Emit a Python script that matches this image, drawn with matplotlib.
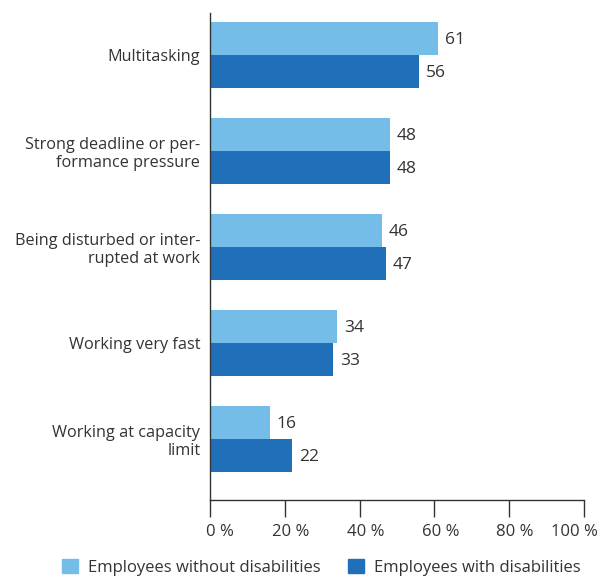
import numpy as np
import matplotlib.pyplot as plt
import matplotlib.transforms as mtrans
from matplotlib.patches import Patch

# data
categories = ['Multitasking',
              'Strong deadline or per-\nformance pressure',
              'Being disturbed or inter-\nrupted at work',
              'Working very fast',
              'Working at capacity\nlimit']
without_dis = [61, 48, 46, 34, 16]
with_dis = [56, 48, 47, 33, 22]
xticks = [0, 20, 40, 60, 80, 100]
series_names = ['Employees without disabilities', 'Employees with disabilities']

light = '#74bde8'
dark = '#1f70b8'
txt = '#333333'

plt.rcParams['font.family'] = ['Open Sans', 'DejaVu Sans']

fig = plt.figure(figsize=(6.06, 5.78), dpi=100)
ax = fig.add_axes([0.3465, 0.135, 0.6172, 0.8425])

y = np.arange(len(categories))
h = 0.344
ax.barh(y - h/2, without_dis, height=h, color=light)
ax.barh(y + h/2, with_dis, height=h, color=dark)

for i in range(len(categories)):
    ax.text(without_dis[i] + 1.8, y[i] - h/2 + 0.02, str(without_dis[i]),
            va='center', ha='left', fontsize=12.5, color=txt)
    ax.text(with_dis[i] + 1.8, y[i] + h/2 + 0.02, str(with_dis[i]),
            va='center', ha='left', fontsize=12.5, color=txt)

ax.set_xlim(0, 100)
ax.set_ylim(4 + 0.635, -0.4375)
ax.set_yticks(y)
ax.set_yticklabels(categories, fontsize=11.7, color=txt, linespacing=1.18)
ax.tick_params(axis='y', length=0, pad=7)
ax.set_xticks(xticks)
ax.set_xticklabels([f'{v} %' for v in xticks], fontsize=12, color=txt)
ax.tick_params(axis='x', direction='out', length=12, width=1, color=txt, pad=5)

# labels sit a little right of their ticks, the last one pulled in
for lab, dx in zip(ax.get_xticklabels(), [10, 6, 6, 6, 6, -10]):
    lab.set_transform(lab.get_transform() + mtrans.ScaledTranslation(dx / 100, 0, fig.dpi_scale_trans))

for s in ['top', 'right']:
    ax.spines[s].set_visible(False)
for s in ['left', 'bottom']:
    ax.spines[s].set_color(txt)
    ax.spines[s].set_linewidth(1)

handles = [Patch(color=light), Patch(color=dark)]
fig.legend(handles, series_names, loc='lower center', bbox_to_anchor=(0.53, -0.022),
           ncol=2, frameon=False, fontsize=12, handlelength=1.0, handleheight=1.0,
           columnspacing=1.6, handletextpad=0.6, labelcolor=txt)

fig.savefig('out.png', dpi=100)
